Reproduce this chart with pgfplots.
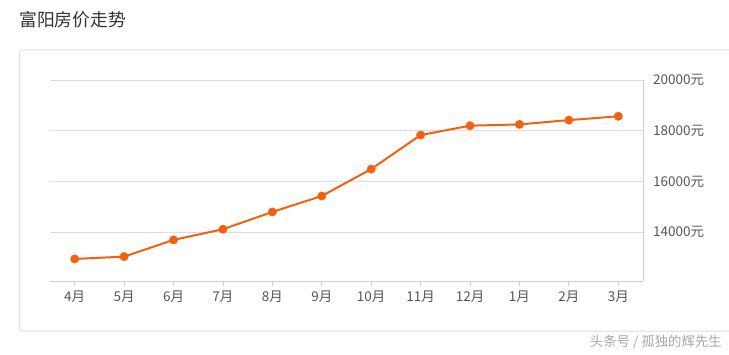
\documentclass[border=0pt]{standalone}
\usepackage{fontspec}
\setmainfont{Noto Sans CJK SC}
\usepackage{pgfplots}
\pgfplotsset{compat=1.18}
\definecolor{lineor}{RGB}{242,96,18}
\definecolor{gridc}{RGB}{221,221,221}
\definecolor{axc}{RGB}{204,204,204}
\definecolor{txt}{RGB}{85,85,85}
\begin{document}
\begin{tikzpicture}[x=1pt,y=1pt]
\useasboundingbox (0,0) rectangle (729,354);
\draw[draw=gridc, rounded corners=3pt, line width=1pt] (19.5,23) rectangle (760,304);
\node[anchor=west, inner sep=0pt, text=black!80, font=\fontsize{17.8}{20}\selectfont] at (19,334) {富阳房价走势};
\node[anchor=east, inner sep=0pt, text=black!35, font=\fontsize{13.4}{15}\selectfont] at (722,12) {头条号 / 孤独的辉先生};
\begin{axis}[
  at={(50pt,73pt)}, anchor=south west,
  scale only axis, width=593pt, height=201pt,
  xmin=-0.5, xmax=11.5, ymin=12080, ymax=20000,
  scaled y ticks=false,
  axis x line*=bottom, axis y line*=right,
  x axis line style={-, draw=axc, line width=1pt},
  y axis line style={-, draw=axc, line width=1pt},
  xticklabel pos=bottom, yticklabel pos=right,
  xtick={0,...,11},
  xticklabels={4月,5月,6月,7月,8月,9月,10月,11月,12月,1月,2月,3月},
  ytick={14000,16000,18000,20000},
  yticklabels={14000元,16000元,18000元,20000元},
  tick align=outside, major tick length=5pt,
  xtick style={draw=axc, line width=0.8pt},
  ytick style={draw=none},
  ymajorgrids, grid style={draw=gridc, line width=1pt},
  ticklabel style={text=txt, font=\fontsize{13.5}{15}\selectfont},
  yticklabel style={anchor=west, inner sep=0pt, xshift=5pt},
  xticklabel style={inner sep=0pt, yshift=-4.5pt},
  clip=false,
]
\addplot[color=lineor, line width=2pt, mark=*, mark size=4.2pt, mark options={solid, fill=lineor, draw=lineor, line width=0.4pt}]
coordinates {(0,12950) (1,13040) (2,13700) (3,14120) (4,14800) (5,15430) (6,16490) (7,17830) (8,18200) (9,18250) (10,18420) (11,18570)};
\end{axis}
\end{tikzpicture}
\end{document}
